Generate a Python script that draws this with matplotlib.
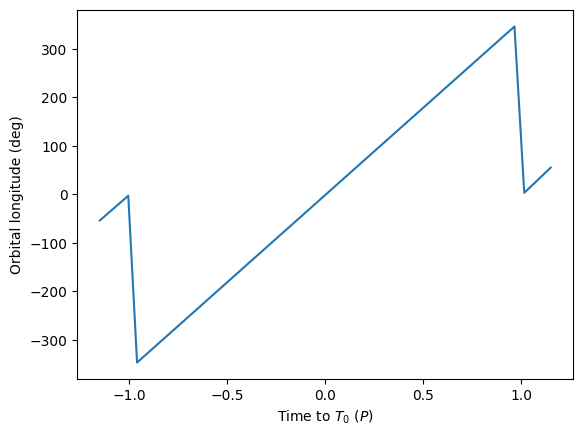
import matplotlib
matplotlib.use("Agg")
import matplotlib.pyplot as plt

# vertices
time_p = [-1.15, -1.005, -0.96, 0.965, 1.015, 1.15]
lon_deg = [-54, -3, -347, 346, 3, 55]

fig, ax = plt.subplots(figsize=(6.4, 4.8))
ax.plot(time_p, lon_deg)
ax.set_xlabel("Time to $T_0$ ($P$)")
ax.set_ylabel("Orbital longitude (deg)")
fig.savefig("out.png", bbox_inches="tight")
